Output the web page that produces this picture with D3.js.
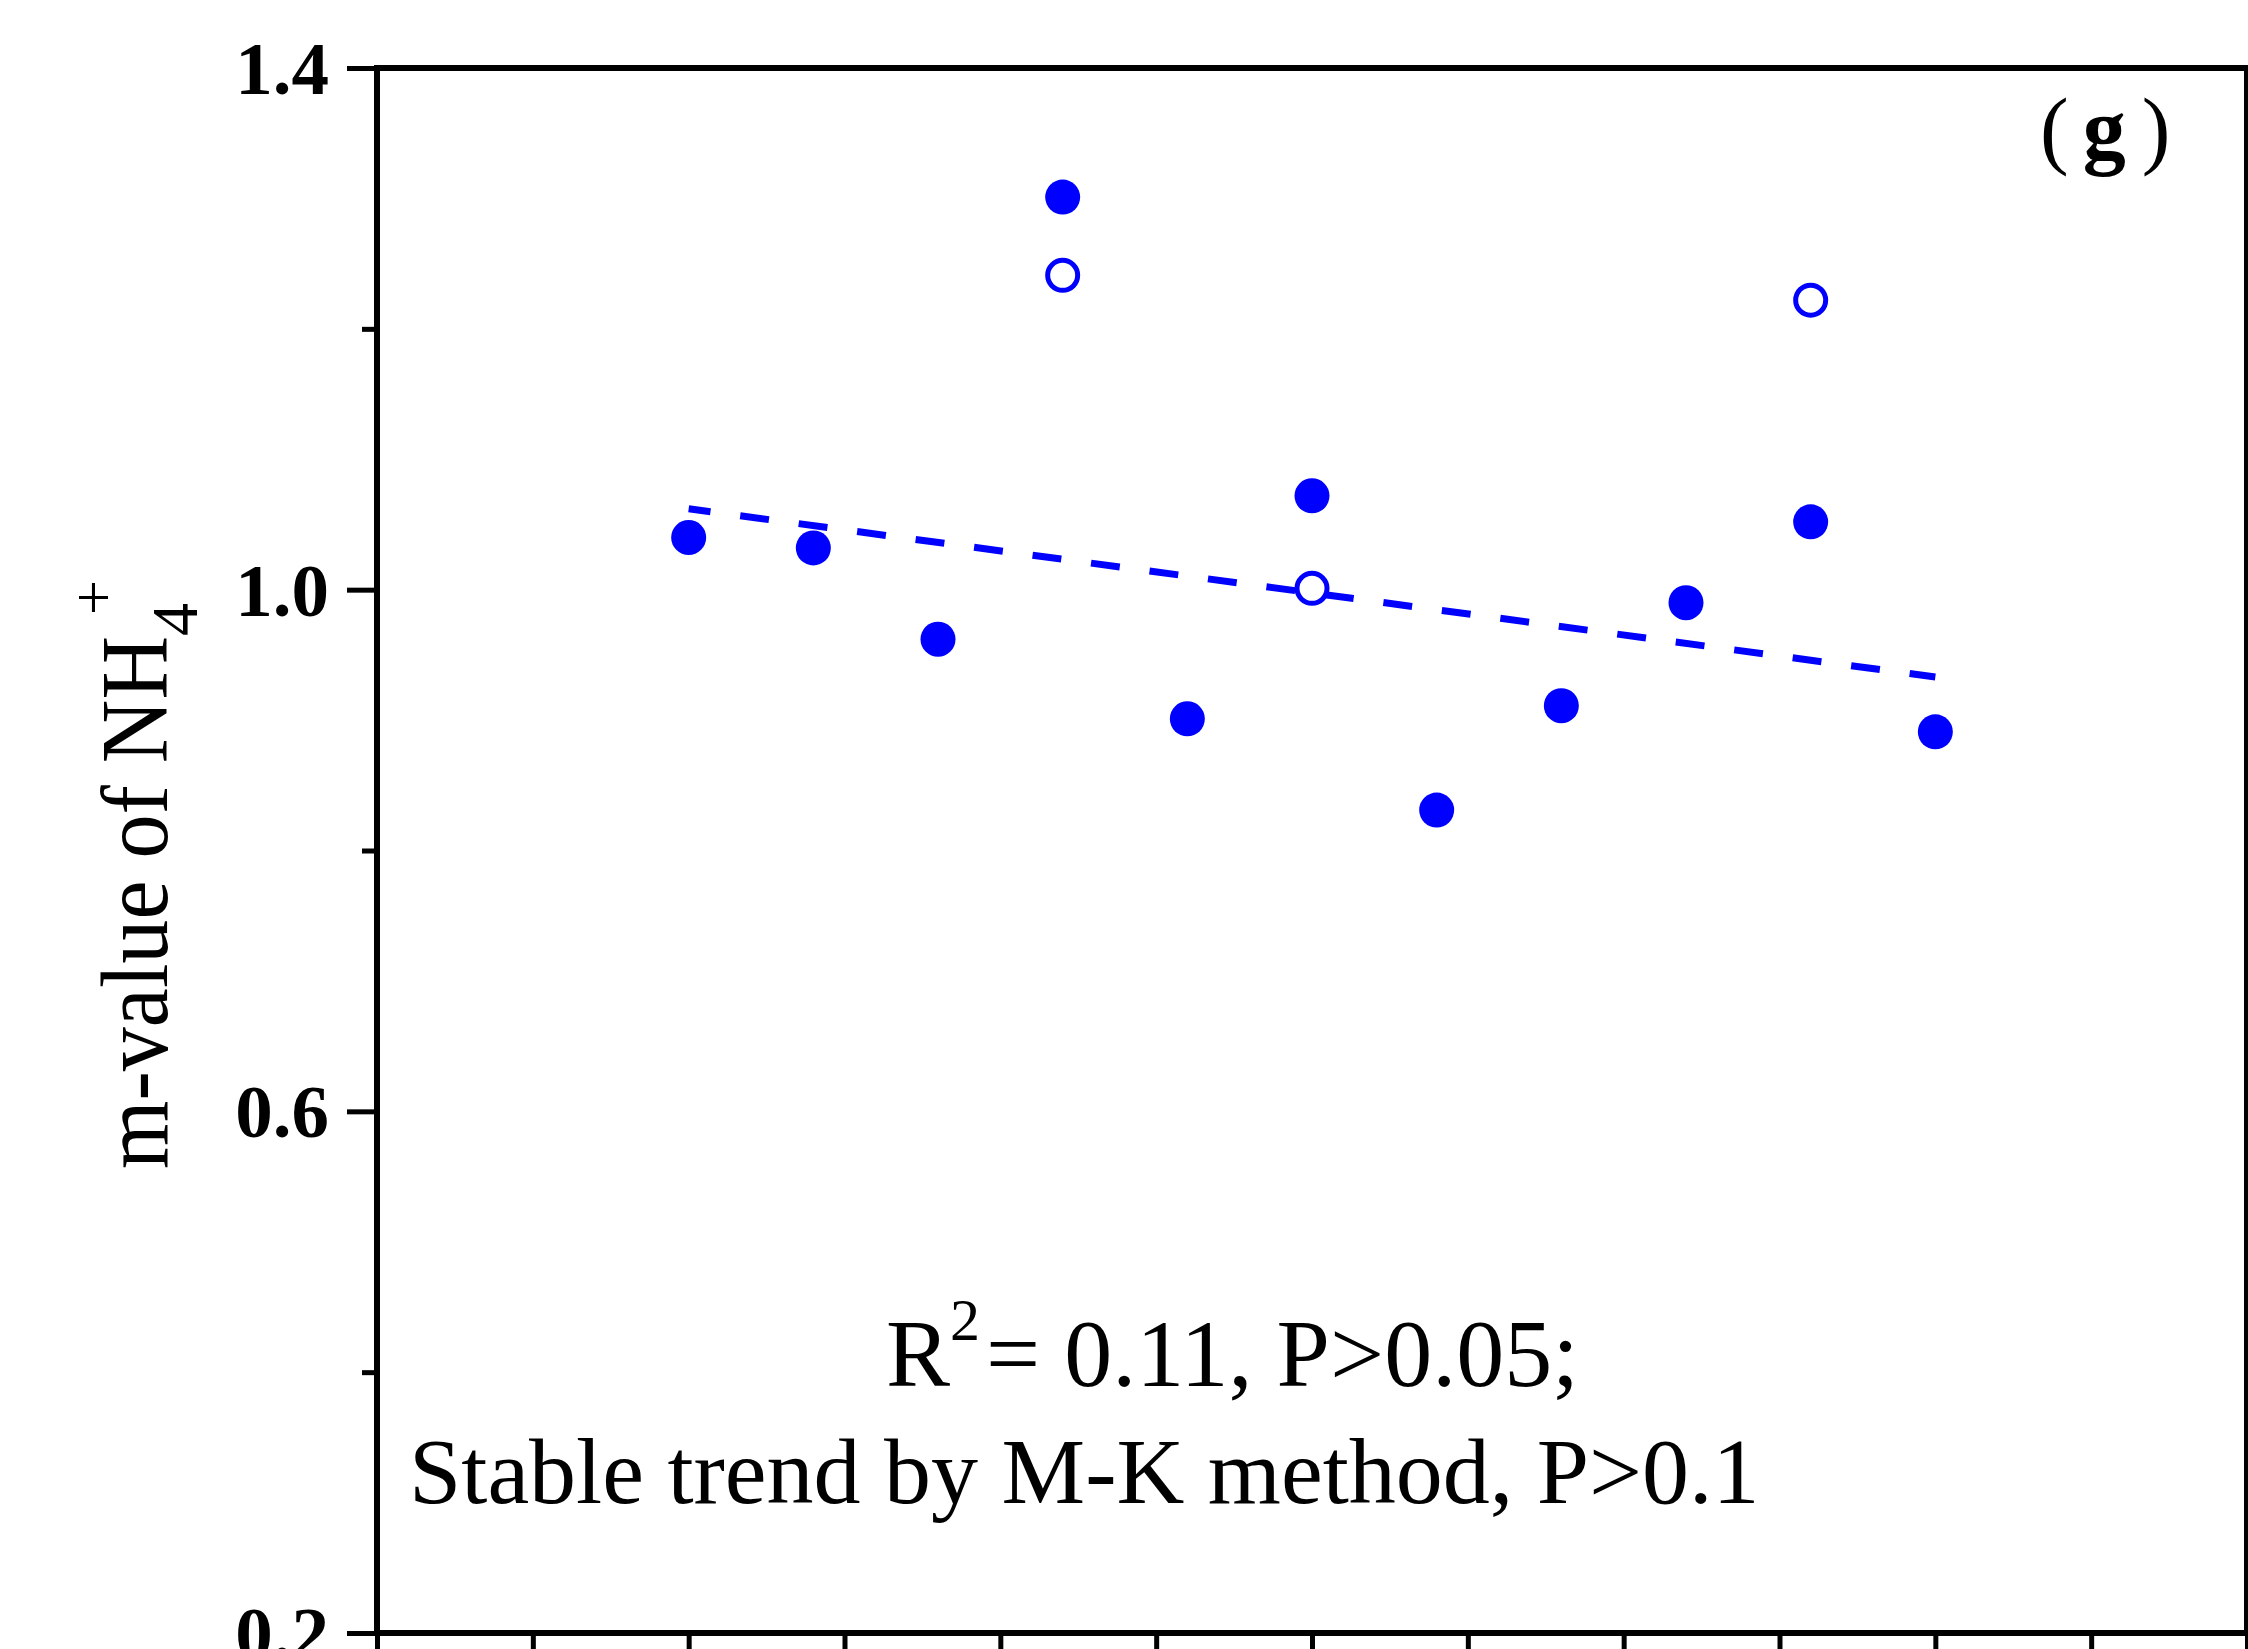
<!DOCTYPE html>
<html><head><meta charset="utf-8">
<script src="https://cdn.jsdelivr.net/npm/d3@7"></script>
<style>html,body{margin:0;padding:0;background:#fff;overflow:hidden}</style>
</head><body>
<svg id="chart" width="2248" height="1649"></svg>
<script>
// ---- data ----
const pointIndex   = [0,1,2,3,4,5,6,7,8,9,10];
const filledValues = [1.040,1.032,0.962,1.301,0.901,1.072,0.831,0.911,0.990,1.052,0.891];
const openIndex    = [3,5,9];
const openValues   = [1.241,1.001,1.222];
const trendIndex   = [0,10];
const trendValues  = [1.062,0.933];
const yMajorTicks  = [0.2,0.6,1.0,1.4];
const yMinorTicks  = [0.4,0.8,1.2];
const xTicks       = [-2.5,-1.25,0,1.25,2.5,3.75,5,6.25,7.5,8.75,10,11.25,12.5];
const yLabelMain   = "m-value of NH";
const yLabelSub    = "4";
const yLabelSup    = "+";
const panelLabel   = ["(", "g", ")"];
const statLine1    = ["R", "2", "= 0.11, P>0.05;"];
const statLine2    = "Stable trend by M-K method, P>0.1";

// ---- layout ----
const L = 377, R = 2247, T = 68, B = 1633;
const blue = "#0000FF";
const serif = "'Liberation Serif','Times New Roman',Times,serif";
const svg = d3.select("#chart");

const x = d3.scaleLinear().domain([-2.5, 12.5]).range([L, R]);
const y = d3.scaleLinear().domain([0.2, 1.4]).range([B, T]);

// axes ticks
const yAx = svg.append("g").attr("transform", `translate(${L},0)`)
  .call(d3.axisLeft(y).tickValues(yMajorTicks).tickSize(30).tickPadding(18)
        .tickFormat(d3.format(".1f")));
yAx.select(".domain").remove();
yAx.selectAll(".tick line").attr("stroke", "#000").attr("stroke-width", 5);
yAx.selectAll(".tick text").attr("font-family", serif).attr("font-weight", "bold")
  .attr("font-size", 75).attr("fill", "#000").attr("dy", "0.34em");

const yMin = svg.append("g").attr("transform", `translate(${L},0)`)
  .call(d3.axisLeft(y).tickValues(yMinorTicks).tickSize(15).tickFormat(""));
yMin.select(".domain").remove();
yMin.selectAll(".tick line").attr("stroke", "#000").attr("stroke-width", 5);

const xAx = svg.append("g").attr("transform", `translate(0,${B})`)
  .call(d3.axisBottom(x).tickValues(xTicks).tickSize(30).tickFormat(""));
xAx.select(".domain").remove();
xAx.selectAll(".tick line").attr("stroke", "#000").attr("stroke-width", 5);

// frame
svg.append("rect").attr("x", L).attr("y", T).attr("width", R - L).attr("height", B - T)
  .attr("fill", "none").attr("stroke", "#000").attr("stroke-width", 6);

// trend line
svg.append("path")
  .datum(trendIndex.map((d, i) => [d, trendValues[i]]))
  .attr("d", d3.line().x(d => x(d[0])).y(d => y(d[1])))
  .attr("fill", "none").attr("stroke", blue).attr("stroke-width", 7)
  .attr("stroke-dasharray", "29,30").attr("stroke-dashoffset", 7);

// filled points
svg.append("g").selectAll("circle").data(pointIndex).join("circle")
  .attr("cx", d => x(d)).attr("cy", (d, i) => y(filledValues[i]))
  .attr("r", 17.5).attr("fill", blue);

// open points
svg.append("g").selectAll("circle").data(openIndex).join("circle")
  .attr("cx", d => x(d)).attr("cy", (d, i) => y(openValues[i]))
  .attr("r", 15).attr("fill", "#fff").attr("stroke", blue).attr("stroke-width", 5);

// y label
const yl = svg.append("text").attr("transform", "translate(167,1169) rotate(-90)")
  .attr("font-family", serif).attr("font-size", 95).attr("fill", "#000");
yl.append("tspan").attr("textLength", 533).attr("lengthAdjust", "spacingAndGlyphs").text(yLabelMain);
yl.append("tspan").attr("font-size", 66).attr("dy", 30).text(yLabelSub);
yl.append("tspan").attr("font-size", 62).attr("dy", -83).attr("dx", -12).text(yLabelSup);

// panel label
const pl = svg.append("text").attr("x", 2040).attr("y", 158)
  .attr("font-family", serif).attr("font-size", 86).attr("fill", "#000");
pl.append("tspan").text(panelLabel[0]);
pl.append("tspan").attr("dx", 14).attr("font-weight", "bold").text(panelLabel[1]);
pl.append("tspan").attr("dx", 16).text(panelLabel[2]);

// statistics text
const s1 = svg.append("text").attr("x", 886).attr("y", 1386)
  .attr("font-family", serif).attr("font-size", 96).attr("fill", "#000");
s1.append("tspan").text(statLine1[0]);
s1.append("tspan").attr("font-size", 60).attr("dy", -46).text(statLine1[1]);
s1.append("tspan").attr("dy", 46).attr("dx", 6).text(statLine1[2]);

svg.append("text").attr("x", 409).attr("y", 1503)
  .attr("font-family", serif).attr("font-size", 94).attr("fill", "#000").text(statLine2);
</script>
</body></html>
